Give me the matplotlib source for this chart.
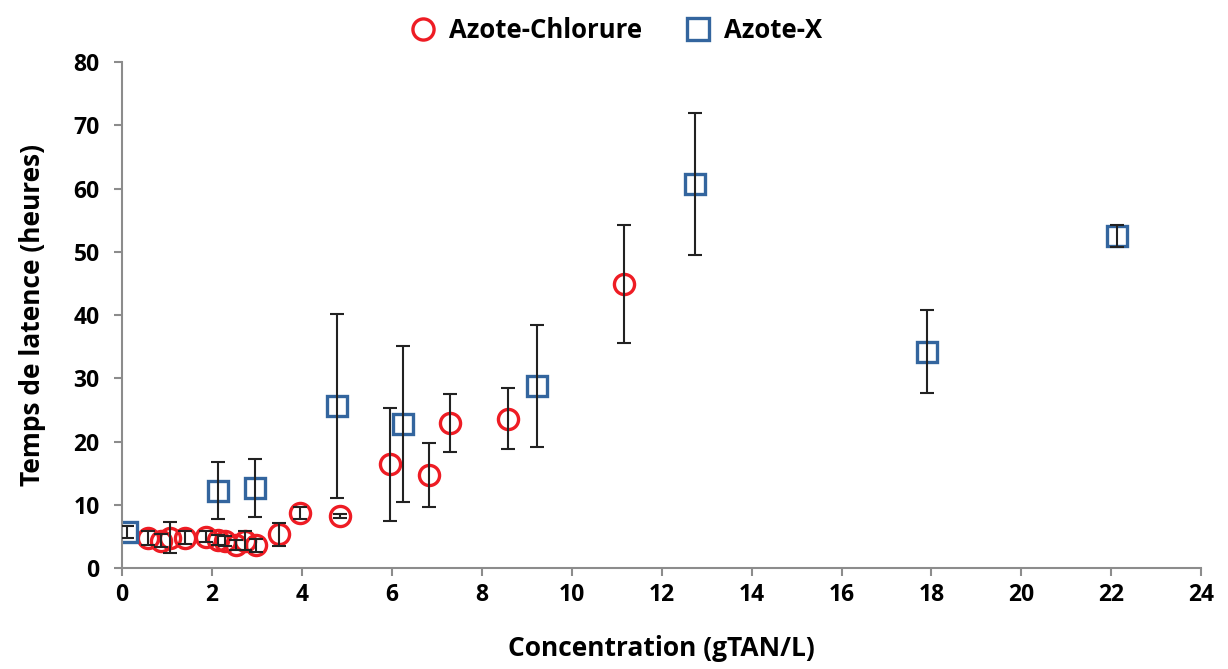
import matplotlib.pyplot as plt

plt.rcParams['font.family'] = ['Open Sans', 'Liberation Sans', 'DejaVu Sans']
plt.rcParams['font.weight'] = 'bold'

# Azote-Chlorure
chl_x = [0.57, 0.87, 1.07, 1.40, 1.88, 2.14, 2.29, 2.54, 2.74, 2.98, 3.50, 3.96, 4.85,
         5.96, 6.83, 7.30, 8.59, 11.17]
chl_y = [4.8, 4.3, 4.8, 4.8, 4.95, 4.4, 4.3, 3.6, 4.3, 3.6, 5.3, 8.7, 8.2,
         16.4, 14.7, 22.9, 23.6, 44.9]
chl_err = [1.1, 1.0, 2.4, 1.0, 0.9, 0.8, 0.8, 0.8, 1.5, 1.0, 1.8, 1.0, 0.3,
           8.9, 5.0, 4.6, 4.8, 9.3]

# Azote-X
x_x = [0.11, 2.14, 2.96, 4.78, 6.25, 9.23, 12.74, 17.9, 22.13]
x_y = [5.7, 12.2, 12.7, 25.6, 22.8, 28.8, 60.7, 34.2, 52.5]
x_err = [1.0, 4.5, 4.6, 14.6, 12.3, 9.6, 11.2, 6.6, 1.8]

fig = plt.figure(figsize=(12.28, 6.69), dpi=100)
ax = fig.add_axes([0.0993, 0.151, 0.879, 0.756])

ax.plot(chl_x, chl_y, 'o', ms=14.5, mfc='none', mec='#ee1c24', mew=2.4,
        label='Azote-Chlorure', zorder=2)
ax.plot(x_x, x_y, 's', ms=14.5, mfc='none', mec='#33659e', mew=2.4,
        label='Azote-X', zorder=2)
ax.errorbar(chl_x, chl_y, yerr=chl_err, fmt='none', ecolor='#222222',
            elinewidth=1.5, capsize=5, capthick=1.5, zorder=3)
ax.errorbar(x_x, x_y, yerr=x_err, fmt='none', ecolor='#222222',
            elinewidth=1.5, capsize=5, capthick=1.5, zorder=3)

ax.set_xlim(0, 24)
ax.set_ylim(0, 80)
ax.set_xticks(range(0, 25, 2))
ax.set_yticks(range(0, 81, 10))
for s in ['top', 'right']:
    ax.spines[s].set_visible(False)
for s in ['left', 'bottom']:
    ax.spines[s].set_color('#8c8c8c')
    ax.spines[s].set_linewidth(1.5)
ax.tick_params(direction='out', length=6, width=1.5, color='#8c8c8c',
               labelsize=16.5)
ax.tick_params(axis='y', pad=10)
ax.tick_params(axis='x', pad=5)
for lab in ax.get_xticklabels() + ax.get_yticklabels():
    lab.set_fontweight('bold')

ax.set_xlabel('Concentration (gTAN/L)', fontsize=19, fontweight='bold', labelpad=20)
ax.set_ylabel('Temps de latence (heures)', fontsize=19, fontweight='bold', labelpad=20)

leg = ax.legend(loc='lower center', bbox_to_anchor=(0.452, 1.0), ncol=2,
                frameon=False, fontsize=18.5, handletextpad=0.0, columnspacing=1.2,
                markerscale=1.05, borderaxespad=0.3)
for t in leg.get_texts():
    t.set_fontweight('bold')

fig.savefig('out.png', dpi=100)
